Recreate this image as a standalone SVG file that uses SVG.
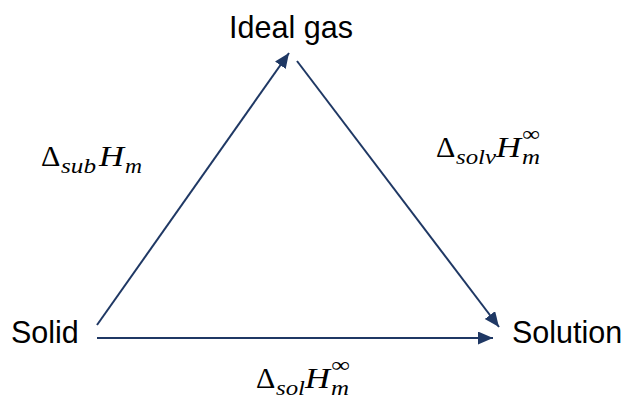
<svg xmlns="http://www.w3.org/2000/svg" width="628" height="406" viewBox="0 0 628 406">
<style>
.node{font-family:"Liberation Sans",Arial,sans-serif;font-size:30.5px;fill:#000}
.m{font-family:"Liberation Serif","Times New Roman",serif;fill:#000}
.big{font-size:30px}
.sub{font-size:22px;font-style:italic}
.it{font-style:italic}
.conn{stroke:#1F3864;stroke-width:2;fill:none}
</style>
<defs>
<marker id="ah" markerUnits="userSpaceOnUse" markerWidth="16" markerHeight="14" refX="15" refY="6.5" orient="auto">
<path d="M0,0 L15,6.5 L0,13 z" fill="#1F3864"/>
</marker>
</defs>
<g id="connectors">
<line class="conn" x1="97" y1="325" x2="289" y2="53" marker-end="url(#ah)"/>
<line class="conn" x1="297" y1="61" x2="499" y2="327" marker-end="url(#ah)"/>
<line class="conn" x1="97" y1="338" x2="493" y2="338" marker-end="url(#ah)"/>
</g>
<g id="ideal-gas"><text class="node" x="291" y="38" text-anchor="middle">Ideal gas</text></g>
<g id="solid"><text class="node" x="11" y="343">Solid</text></g>
<g id="solution"><text class="node" x="512" y="343">Solution</text></g>
<g id="label-sub">
<text class="m"><tspan class="big" x="41" y="166">Δ</tspan><tspan class="sub" x="61" y="173" textLength="35" lengthAdjust="spacingAndGlyphs">sub</tspan><tspan class="big it" x="99" y="166" textLength="25" lengthAdjust="spacingAndGlyphs">H</tspan><tspan class="sub" x="125" y="173" textLength="17" lengthAdjust="spacingAndGlyphs">m</tspan></text>
</g>
<g id="label-solv">
<text class="m"><tspan class="big" x="436" y="157">Δ</tspan><tspan class="sub" x="456" y="164" textLength="40" lengthAdjust="spacingAndGlyphs">solv</tspan><tspan class="big it" x="496" y="157" textLength="25" lengthAdjust="spacingAndGlyphs">H</tspan><tspan class="sub" x="522" y="164" textLength="18" lengthAdjust="spacingAndGlyphs">m</tspan><tspan x="522" y="141" style="font-size:21px" textLength="18" lengthAdjust="spacingAndGlyphs">∞</tspan></text>
</g>
<g id="label-sol">
<text class="m"><tspan class="big" x="256" y="388">Δ</tspan><tspan class="sub" x="276" y="395" textLength="29" lengthAdjust="spacingAndGlyphs">sol</tspan><tspan class="big it" x="305" y="388" textLength="25" lengthAdjust="spacingAndGlyphs">H</tspan><tspan class="sub" x="331" y="395" textLength="18" lengthAdjust="spacingAndGlyphs">m</tspan><tspan x="331" y="372" style="font-size:21px" textLength="19" lengthAdjust="spacingAndGlyphs">∞</tspan></text>
</g>
</svg>
